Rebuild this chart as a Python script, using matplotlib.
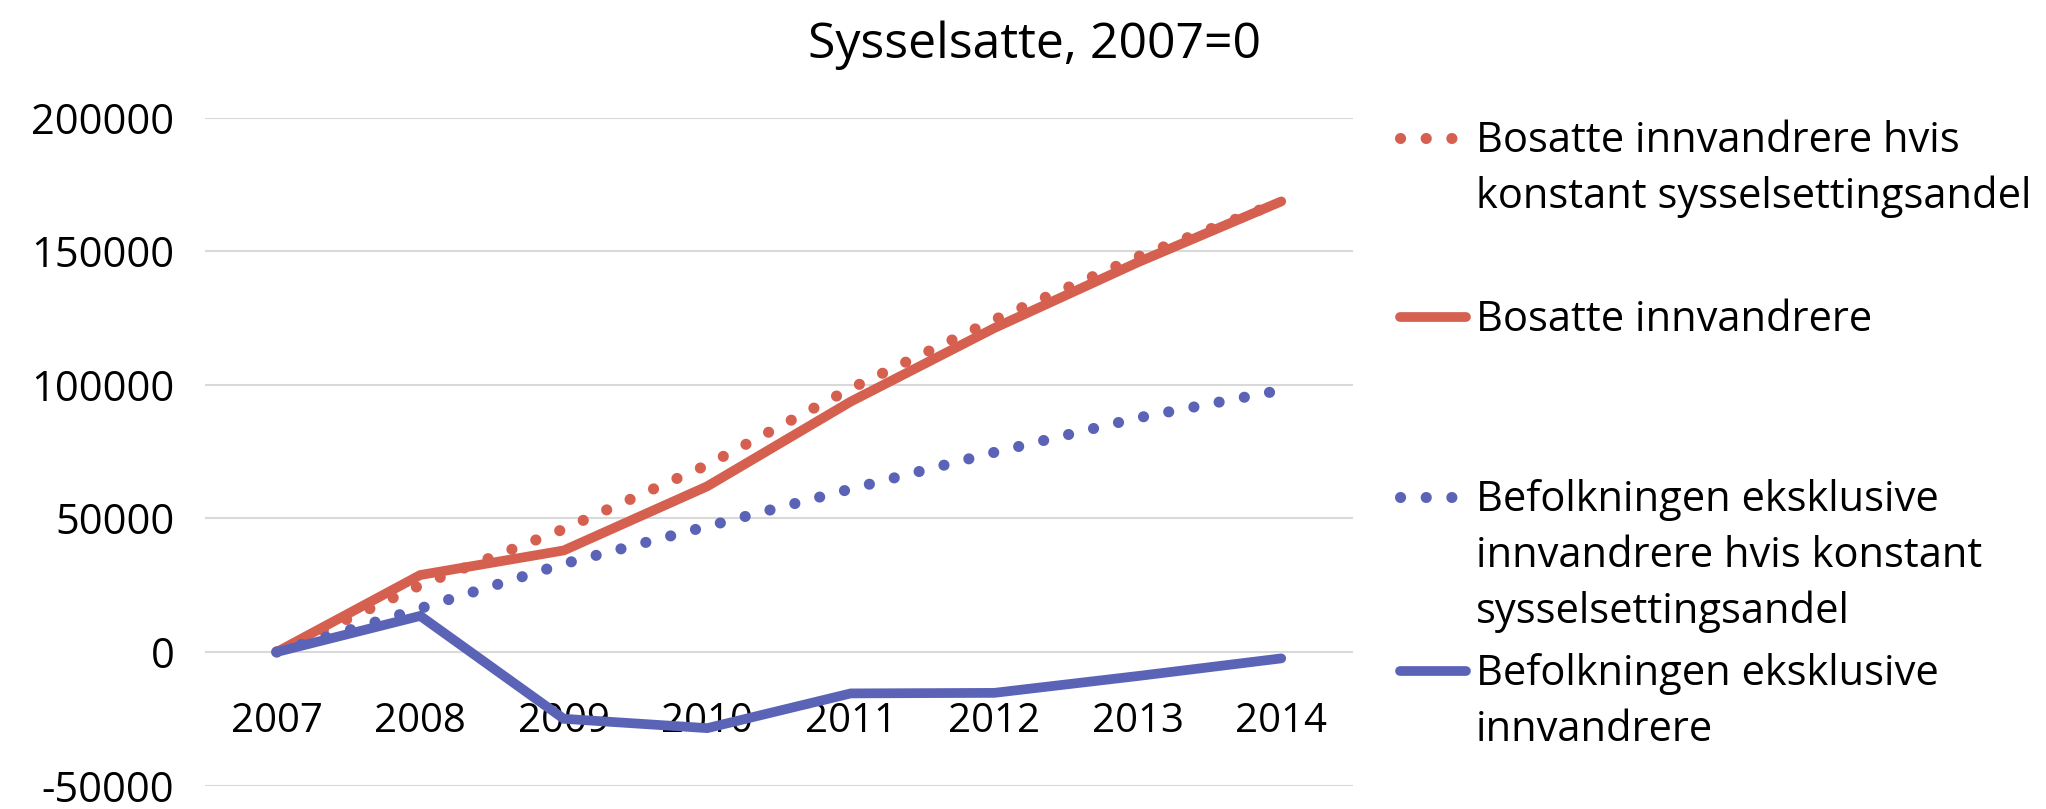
import numpy as np
import matplotlib.pyplot as plt
from matplotlib.lines import Line2D

plt.rcParams['font.family'] = ['Open Sans', 'DejaVu Sans']

# data
years = ['2007', '2008', '2009', '2010', '2011', '2012', '2013', '2014']
bosatte_konst = [0, 25000, 46000, 70000, 98600, 124300, 147900, 168500]
bosatte = [0, 28800, 38000, 62000, 93700, 121200, 145800, 168600]
befolk_konst = [0, 16300, 33000, 47000, 61000, 74700, 87600, 98000]
befolk = [0, 13500, -25000, -28500, -15500, -15300, -9000, -2400]

labels = [
    ['Bosatte innvandrere hvis', 'konstant sysselsettingsandel'],
    ['Bosatte innvandrere'],
    ['Befolkningen eksklusive', 'innvandrere hvis konstant', 'sysselsettingsandel'],
    ['Befolkningen eksklusive', 'innvandrere'],
]

red = '#D5604F'
blue = '#5B63B7'
dotted = (0, (0.01, 2.3))

W, H = 2046, 809
fig = plt.figure(figsize=(W / 100, H / 100), dpi=100)
ax = fig.add_axes([205 / W, 1 - 785.6 / H, (1353 - 205) / W, (785.6 - 117.5) / H])

x = np.arange(len(years))
styles = [
    (bosatte_konst, red, dotted, 8.0),
    (bosatte, red, '-', 7.0),
    (befolk_konst, blue, dotted, 8.0),
    (befolk, blue, '-', 7.0),
]
for vals, col, ls, lw in styles:
    ax.plot(x, vals, color=col, lw=lw, linestyle=ls,
            dash_capstyle='round', solid_capstyle='round', solid_joinstyle='miter')

ax.set_xlim(-0.5, 7.5)
ax.set_ylim(-50000, 200000)
ax.set_yticks(np.arange(-50000, 200001, 50000))
ax.set_yticklabels([str(v) for v in range(-50000, 200001, 50000)])
ax.set_xticks(x)
ax.set_xticklabels(years)
ax.grid(axis='y', color='#D9D9D9', lw=1.5)
ax.set_axisbelow(True)
for s in ['top', 'right', 'left']:
    ax.spines[s].set_visible(False)
ax.spines['bottom'].set_position(('data', 0))
ax.spines['bottom'].set_visible(False)
ax.tick_params(axis='both', length=0, colors='black')
ax.tick_params(axis='y', pad=22, labelsize=30)
ax.tick_params(axis='x', pad=36, labelsize=29)

fig.text(1035 / W, 1 - 45 / H, 'Sysselsatte, 2007=0', ha='center', va='center', fontsize=36)

# legend drawn by hand to follow the spacing of the reference
handle_y = [138, 317, 497, 671]
pitch = 56
for (vals, col, ls, lw), lines, hy in zip(styles, labels, handle_y):
    fig.add_artist(Line2D([1400 / W, 1466 / W], [1 - hy / H, 1 - hy / H],
                          color=col, lw=lw, linestyle=ls,
                          dash_capstyle='round', solid_capstyle='round'))
    for i, t in enumerate(lines):
        fig.text(1476 / W, 1 - (hy + 14 + i * pitch) / H, t,
                 ha='left', va='baseline', fontsize=30)

fig.savefig('out.png', dpi=100)
